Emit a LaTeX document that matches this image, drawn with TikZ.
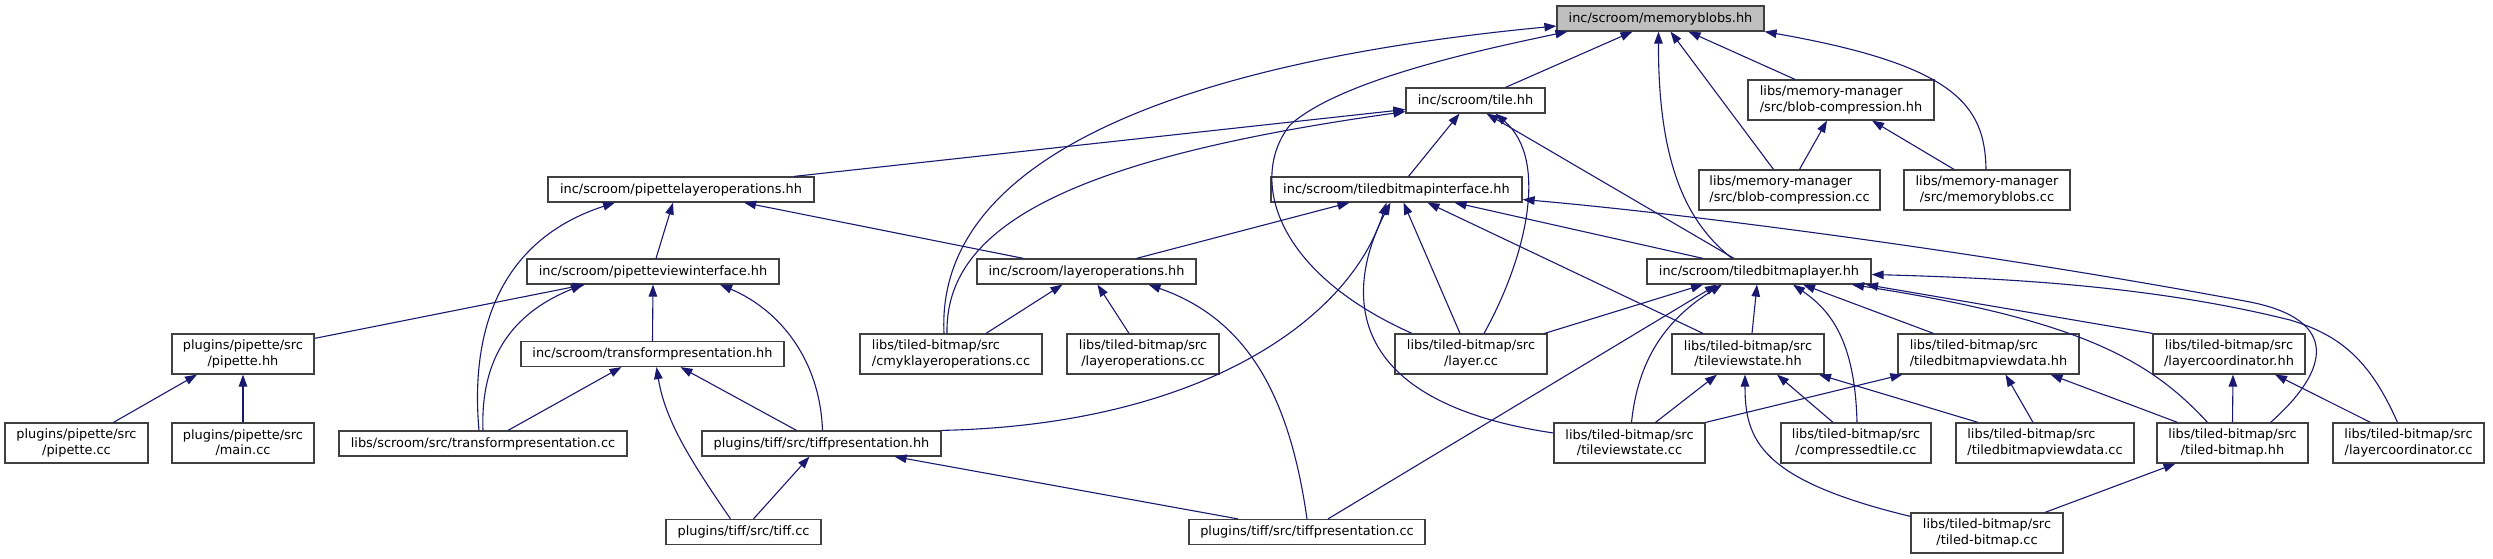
\documentclass[tikz,border=0pt]{standalone}
\usepackage{fontspec}
\setmainfont{DejaVu Sans}
\usepackage{tikz}
\usetikzlibrary{arrows.meta}
\definecolor{dxblue}{HTML}{191970}
\definecolor{dxgray}{HTML}{BFBFBF}
\definecolor{dxline}{HTML}{404040}

\begin{document}
\begin{tikzpicture}[x=1pt,y=-1pt,
    file/.style={draw=dxline,fill=white,line width=1.2pt,inner sep=0pt,align=center,
      minimum height=25pt,font=\fontsize{12.9pt}{15.3pt}\selectfont},
    src/.style={file,minimum height=40pt},
    srcl/.style={src,align=left},
    dep/.style={draw=dxblue,line width=1.1pt,-{Triangle[length=12pt,width=8.5pt]}}]
  \fill[white] (0,0) rectangle (2493,559);
  \useasboundingbox (0,0) rectangle (2493,559);
  % rank 1-3
  \node[file,fill=dxgray,minimum width=207pt] (mb) at (1660.5,18.5) {inc/scroom/memoryblobs.hh};
  \node[file,minimum width=139pt] (tile) at (1475.5,100.5) {inc/scroom/tile.hh};
  \node[srcl,minimum width=186pt] (bch) at (1841,100) {libs/memory-manager\\/src/blob-compression.hh};
  \node[file,minimum width=266pt] (plo) at (681,189.5) {inc/scroom/pipettelayeroperations.hh};
  \node[file,minimum width=251pt] (tbi) at (1396.5,189.5) {inc/scroom/tiledbitmapinterface.hh};
  \node[srcl,minimum width=181pt] (bcc) at (1789.5,190) {libs/memory-manager\\/src/blob-compression.cc};
  \node[src,minimum width=166pt] (mbc) at (1987,190) {libs/memory-manager\\/src/memoryblobs.cc};
  % rank 4-5
  \node[file,minimum width=252pt] (pvi) at (653,271.5) {inc/scroom/pipetteviewinterface.hh};
  \node[file,minimum width=219pt] (lo) at (1086.5,271.5) {inc/scroom/layeroperations.hh};
  \node[file,minimum width=224pt] (tbl) at (1759,271.5) {inc/scroom/tiledbitmaplayer.hh};
  \node[src,minimum width=142pt] (pph) at (243,354) {plugins/pipette/src\\/pipette.hh};
  \node[file,minimum width=263pt] (tph) at (652.5,354) {inc/scroom/transformpresentation.hh};
  \node[srcl,minimum width=182pt] (cmyk) at (951,354) {libs/tiled-bitmap/src\\/cmyklayeroperations.cc};
  \node[src,minimum width=152pt] (loc) at (1143,354) {libs/tiled-bitmap/src\\/layeroperations.cc};
  \node[src,minimum width=152pt] (layer) at (1471,354) {libs/tiled-bitmap/src\\/layer.cc};
  \node[src,minimum width=152pt] (tvsh) at (1748,354) {libs/tiled-bitmap/src\\/tileviewstate.hh};
  \node[srcl,minimum width=181pt] (tbvdh) at (1988.5,354) {libs/tiled-bitmap/src\\/tiledbitmapviewdata.hh};
  \node[src,minimum width=152pt] (lch) at (2229,354) {libs/tiled-bitmap/src\\/layercoordinator.hh};
  % rank 6-7
  \node[src,minimum width=143pt] (ppc) at (76.5,443) {plugins/pipette/src\\/pipette.cc};
  \node[src,minimum width=142pt] (ppm) at (243,443) {plugins/pipette/src\\/main.cc};
  \node[file,minimum width=288pt] (tpc) at (483,443.5) {libs/scroom/src/transformpresentation.cc};
  \node[file,minimum width=239pt] (tfph) at (821.5,443.5) {plugins/tiff/src/tiffpresentation.hh};
  \node[src,minimum width=151pt] (tvsc) at (1629.5,443) {libs/tiled-bitmap/src\\/tileviewstate.cc};
  \node[src,minimum width=150pt] (ctc) at (1856,443) {libs/tiled-bitmap/src\\/compressedtile.cc};
  \node[srcl,minimum width=178pt] (tbvdc) at (2045,443) {libs/tiled-bitmap/src\\/tiledbitmapviewdata.cc};
  \node[src,minimum width=151pt] (tbh) at (2232.5,443) {libs/tiled-bitmap/src\\/tiled-bitmap.hh};
  \node[src,minimum width=151pt] (lcc) at (2408.5,443) {libs/tiled-bitmap/src\\/layercoordinator.cc};
  \node[file,minimum width=155pt] (tiff) at (743.5,532) {plugins/tiff/src/tiff.cc};
  \node[file,minimum width=236pt] (tfpc) at (1307,532) {plugins/tiff/src/tiffpresentation.cc};
  \node[src,minimum width=152pt] (tbc) at (1987,533) {libs/tiled-bitmap/src\\/tiled-bitmap.cc};

  % includes of memoryblobs.hh
  \draw[dep] ([xshift=-7pt]cmyk.north) .. controls (935,150) and (1200,60) .. ([yshift=-7.5pt]mb.west);
  \draw[dep] ([xshift=-59pt]layer.north) .. controls (1270,270) and (1250,175) .. (1290,125) .. controls (1340,80) and (1480,50) .. ([xshift=11pt]mb.south west);
  \draw[dep] ([xshift=30pt]tile.north) -- ([xshift=-28pt]mb.south);
  \draw[dep] ([xshift=-27pt]tbl.north) .. controls (1690,225) and (1658,170) .. ([xshift=-2pt]mb.south);
  \draw[dep] ([xshift=-16pt]bcc.north) -- ([xshift=10pt]mb.south);
  \draw[dep] ([xshift=-46pt]bch.north) -- ([xshift=28pt]mb.south);
  \draw[dep] ([xshift=-1pt]mbc.north) .. controls (1985,105) and (1955,65) .. (mb.south east);
  \draw[dep] ([xshift=10pt]bcc.north) -- ([xshift=-14pt]bch.south);
  \draw[dep] ([xshift=-33pt]mbc.north) -- ([xshift=31pt]bch.south);
  % tile.hh
  \draw[dep] ([xshift=113pt]plo.north) -- ([yshift=-9pt]tile.west);
  \draw[dep] ([xshift=-4pt]cmyk.north) .. controls (945,230) and (1060,160) .. ([yshift=2pt]tile.south west);
  \draw[dep] ([xshift=12pt]tbi.north) -- ([xshift=-16pt]tile.south);
  \draw[dep] ([xshift=13pt]layer.north) .. controls (1525,260) and (1550,160) .. ([xshift=20pt]tile.south);
  \draw[dep] ([xshift=-25pt]tbl.north) -- ([xshift=11pt]tile.south);
  % tiledbitmapinterface.hh
  \draw[dep] ([xshift=50pt]lo.north) -- ([xshift=-47pt]tbi.south);
  \draw[dep] (tfph.north east) .. controls (1200,425) and (1350,320) .. ([xshift=-10pt]tbi.south);
  \draw[dep] ([yshift=10pt]tvsc.west) .. controls (1330,400) and (1350,280) .. ([xshift=-6pt]tbi.south);
  \draw[dep] ([xshift=-11pt]layer.north) -- ([xshift=7pt]tbi.south);
  \draw[dep] ([xshift=-45pt]tvsh.north) -- ([xshift=31pt]tbi.south);
  \draw[dep] ([xshift=-56pt]tbl.north) -- ([xshift=58pt]tbi.south);
  \draw[dep] ([xshift=38pt]tbh.north) .. controls (2330,370) and (2340,320) .. (2250,302) .. controls (2000,255) and (1700,215) .. ([yshift=-10pt]tbi.east);
  % layeroperations.hh, pipettelayeroperations.hh
  \draw[dep] ([xshift=35pt]cmyk.north) -- ([xshift=-24pt]lo.south);
  \draw[dep] ([xshift=-14pt]loc.north) -- ([xshift=11pt]lo.south);
  \draw[dep] (tfpc.north) .. controls (1290,400) and (1250,320) .. ([xshift=62pt]lo.south);
  \draw[dep] ([xshift=-4pt]tpc.north) .. controls (470,330) and (500,240) .. ([xshift=-66pt]plo.south);
  \draw[dep] ([xshift=3pt]pvi.north) -- ([xshift=-8pt]plo.south);
  \draw[dep] ([xshift=-63pt]lo.north) -- ([xshift=63pt]plo.south);
  % pipetteviewinterface.hh, transformpresentation.hh
  \draw[dep] ([yshift=-5pt]pph.north east) -- ([xshift=-68pt]pvi.south);
  \draw[dep] (tpc.north) .. controls (480,350) and (520,310) .. ([xshift=-70pt]pvi.south);
  \draw[dep] (tph.north) -- (pvi.south);
  \draw[dep] ([xshift=1pt]tfph.north) .. controls (820,360) and (780,310) .. ([xshift=67pt]pvi.south);
  \draw[dep] ([xshift=25pt]tpc.north) -- ([xshift=-31pt]tph.south);
  \draw[dep] ([xshift=-13pt]tiff.north) .. controls (690,460) and (665,420) .. ([xshift=4pt]tph.south);
  \draw[dep] ([xshift=-25pt]tfph.north) -- ([xshift=28pt]tph.south);
  \draw[dep] ([xshift=37pt]ppc.north) -- ([xshift=-46pt]pph.south);
  \draw[dep] (ppm) -- (pph);
  \draw[dep] ([xshift=10pt]tiff.north) -- ([xshift=-12pt]tfph.south);
  \draw[dep] ([xshift=-69pt]tfpc.north) -- ([xshift=73pt]tfph.south);
  % tiledbitmaplayer.hh
  \draw[dep] ([xshift=-3pt]layer.north east) -- ([xshift=-56pt]tbl.south);
  \draw[dep] ([xshift=21pt]tfpc.north) -- ([xshift=-42pt]tbl.south);
  \draw[dep] ([xshift=2pt]tvsc.north) .. controls (1638,360) and (1665,320) .. ([xshift=-37pt]tbl.south);
  \draw[dep] ([xshift=4pt]tvsh.north) -- ([xshift=-2pt]tbl.south);
  \draw[dep] ([xshift=1pt]ctc.north) .. controls (1855,340) and (1830,310) .. ([xshift=34pt]tbl.south);
  \draw[dep] ([xshift=-55pt]tbvdh.north) -- ([xshift=44pt]tbl.south);
  \draw[dep] ([xshift=-25pt]tbh.north) .. controls (2150,360) and (2080,320) .. ([xshift=93pt]tbl.south);
  \draw[dep] (lch.north west) -- ([xshift=107pt]tbl.south);
  \draw[dep] ([xshift=-11pt]lcc.north) .. controls (2370,360) and (2340,335) .. (2290,320) .. controls (2150,285) and (2000,278) .. ([yshift=-3pt]tbl.east);
  % tiled-bitmap headers
  \draw[dep] ([xshift=26pt]tvsc.north) -- ([xshift=-31pt]tvsh.south);
  \draw[dep] ([xshift=-23pt]ctc.north) -- ([xshift=29pt]tvsh.south);
  \draw[dep] ([yshift=-4pt]tbc.north west) .. controls (1760,480) and (1745,440) .. ([xshift=-3pt]tvsh.south);
  \draw[dep] ([xshift=-67pt]tbvdc.north) -- ([xshift=71pt]tvsh.south);
  \draw[dep] (tvsc.north east) -- ([xshift=5pt]tbvdh.south west);
  \draw[dep] ([xshift=-12pt]tbvdc.north) -- ([xshift=17pt]tbvdh.south);
  \draw[dep] ([xshift=-55pt]tbh.north) -- ([xshift=62pt]tbvdh.south);
  \draw[dep] (tbh.north) -- ([xshift=4pt]lch.south);
  \draw[dep] ([xshift=-38pt]lcc.north) -- ([xshift=46pt]lch.south);
  \draw[dep] ([xshift=58pt]tbc.north) -- ([xshift=-57pt]tbh.south);
\end{tikzpicture}
\end{document}
